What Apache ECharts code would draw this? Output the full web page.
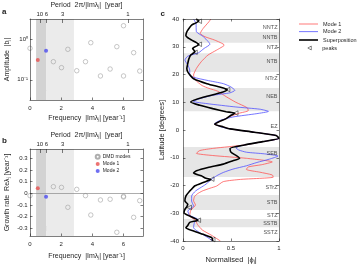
<!DOCTYPE html>
<html><head><meta charset="utf-8">
<script src="https://cdn.jsdelivr.net/npm/echarts@6/dist/echarts.min.js"></script>
<style>html,body{margin:0;padding:0;background:#fff}#c{width:361px;height:270px}</style>
</head><body><div id="c"></div>
<script>
// ---------- DATA ----------
// panels a/b : DMD modes
const dmdFreq   = [0, 1.5, 2.02, 2.43, 3.0, 3.56, 3.9, 4.52, 5.14, 5.57, 6.0, 6.0, 6.65, 7.04];
const dmdAmp    = [0.598, 0.279, 0.199, 0.564, 0.167, 0.279, 0.822, 0.124, 0.184, 0.656, 2.16, 0.124, 0.466, 0.164];
const dmdGrowth = [-0.02, 0.057, 0.051, -0.12, 0.034, -0.02, -0.186, -0.057, -0.051, -0.334, -0.025, -0.032, -0.206, -0.063];
const mode1Freq = [0.5], mode1Amp = [0.307], mode1Growth = [0.043];
const mode2Freq = [1.03], mode2Amp = [0.521], mode2Growth = [-0.029];
const periodTicks = [10, 6, 3, 1];
const twBand = [0.39, 1.03];
const lightBand = [1.03, 2.82];
const freqTicks = [0, 2, 4, 6];
const ampTicks = [0.1, 1];
const growthTicks = [-0.3, -0.2, -0.1, 0, 0.1, 0.2, 0.3];

// panel c : normalised eigenfunctions vs latitude
const blackLat = [40,39.3,38.5,37.8,36.5,35.4,34,33,32.4,31.5,30.8,29.4,28.2,27,25.5,24,22.2,20.9,19.5,18.5,16.7,15.1,14.5,13.4,11.9,10.1,8.9,7.7,6.6,6.0,5.3,4.1,2.9,2.1,1.1,0.4,-0.8,-2,-3,-4.2,-5.4,-6.7,-8,-9.3,-10.2,-11.1,-12.3,-13.5,-14.7,-15.5,-16.5,-17.4,-17.8,-18.9,-20.1,-21.3,-22,-23.8,-25.6,-26.8,-27.6,-28.6,-29.8,-31,-31.8,-32.5,-33.3,-34.4,-35.2,-36.4,-37.6,-38.8,-40];
const blackVal = [0.135,0.165,0.13,0.09,0.06,0.04,0.03,0.06,0.09,0.14,0.165,0.10,0.125,0.08,0.06,0.05,0.04,0.05,0.08,0.11,0.25,0.42,0.46,0.39,0.22,0.08,0.175,0.31,0.45,0.54,0.50,0.45,0.37,0.33,0.42,0.49,0.74,0.97,1.0,0.83,0.64,0.49,0.50,0.56,0.59,0.52,0.42,0.26,0.14,0.11,0.19,0.24,0.29,0.21,0.125,0.09,0.07,0.03,0.02,0.05,0.04,0.02,0.01,0.07,0.12,0.155,0.07,0.05,0.03,0.11,0.21,0.30,0.31];
const blueLat = [40,38.4,35.4,33.7,30.9,29.4,27.8,26.6,25.2,23.4,21.6,19.8,19.0,17.9,16.7,15.5,14.3,13.4,12.5,11.3,10.3,9.5,8.3,7.5,6.7,5.9,4.7,3.5,2.3,1.1,0.4,-0.8,-2,-3,-4.2,-5.4,-6.4,-7.2,-8,-8.6,-9.4,-10.5,-11.7,-12.9,-14.1,-15.3,-16.5,-17.7,-19.5,-20.2,-22,-23.8,-25.6,-27.4,-29.2,-30.8,-32.2,-33.3,-35.2,-37,-38.8,-40];
const blueVal = [0.11,0.135,0.14,0.21,0.28,0.22,0.16,0.05,0.02,0.05,0.07,0.07,0.11,0.25,0.42,0.50,0.54,0.49,0.31,0.175,0.11,0.25,0.55,0.80,0.89,0.77,0.52,0.39,0.33,0.40,0.49,0.74,0.97,1.0,0.83,0.64,0.55,0.58,0.66,0.85,0.99,0.90,0.77,0.66,0.52,0.42,0.35,0.30,0.24,0.21,0.13,0.09,0.09,0.11,0.05,0.07,0.155,0.12,0.11,0.175,0.26,0.31];
const redLat = [40,39,36.6,34.8,33.6,32.4,30.6,28.8,27,24.6,22.2,19.8,18,16,15,14,12,10,8,7,6,5,4,3,2.1,1.1,0.4,-0.8,-2,-3,-4.2,-5.4,-6.6,-7.4,-8.4,-9.2,-10.2,-11.5,-12.5,-13.3,-14.2,-15.2,-16.2,-17.0,-17.8,-18.6,-20.2,-21.0,-22.0,-23.0,-24.0,-25.5,-27.0,-29.0,-31.0,-32.5,-34.0,-36.0,-38.0,-40];
const redVal = [0.29,0.27,0.21,0.18,0.23,0.33,0.43,0.35,0.26,0.19,0.14,0.11,0.13,0.2,0.27,0.36,0.45,0.55,0.67,0.68,0.58,0.5,0.44,0.38,0.33,0.42,0.49,0.74,0.97,1.0,0.83,0.64,0.32,0.175,0.14,0.31,0.66,0.93,0.82,0.68,0.66,0.8,0.93,0.94,0.6,0.42,0.35,0.28,0.2,0.15,0.12,0.11,0.13,0.08,0.07,0.13,0.15,0.2,0.3,0.39];
const peakLat = [39.2, 30.9, 28.0, 14.6, 6.1, -17.7, -27.9, -32.5, -39.5];
const peakVal = [0.17, 0.17, 0.125, 0.465, 0.55, 0.30, 0.065, 0.16, 0.31];
const beltBands = [[31.4,35.3],[20.9,27.7],[6.8,15.1],[-16.9,-6.1],[-28.8,-23.4],[-35.0,-32.1]];
const zoneNames = ['NNTZ','NNTB','NTZ','NTB','NTrZ','NEB','EZ','SEB','STrZ','STB','STZ','SSTB','SSTZ'];
const zoneLats  = [36.9, 33.3, 29.7, 24.6, 18.5, 12.0, 1.1, -8.3, -20.6, -26.2, -30.7, -33.6, -37.0];

// ---------- STYLE ----------
const FONT = 'Liberation Sans, Arial, Helvetica, sans-serif';
const TXT = '#262626';
const RED = '#ff5656', BLUE = '#5252ff', REDDOT = '#e8504f', BLUEDOT = '#4b4bef', GRAY = '#9a9a9a';
const zip = (a, b) => a.map((v, i) => [v, b[i]]);
const periodFreq = periodTicks.map(p => 2 * Math.PI / p);

function ax(o) {
  return Object.assign({
    type: 'value', z: 10,
    axisLine: { show: true, onZero: false, lineStyle: { color: TXT, width: 0.6 } },
    axisTick: { show: true, inside: true, length: 2.5, lineStyle: { color: TXT, width: 0.6 } },
    axisLabel: { show: false },
    splitLine: { show: false },
    nameTextStyle: { fontSize: 7, color: TXT, fontFamily: FONT },
    nameLocation: 'middle'
  }, o);
}
const lbl = (o) => Object.assign({ show: true, fontSize: 6, color: TXT, fontFamily: FONT }, o);
const tick = (vals, len) => ({ show: true, inside: true, length: len || 2.5, customValues: vals, lineStyle: { color: TXT, width: 0.6 } });

const grids = [
  { left: 30, top: 19, width: 113, height: 81 },
  { left: 30, top: 149, width: 113, height: 87 },
  { left: 183, top: 19, width: 96, height: 222 }
].map(g => Object.assign({ containLabel: false, outerBoundsMode: 'none', show: false }, g));

const xAxes = [];
const yAxes = [];
[0, 1].forEach(gi => {
  xAxes.push(ax({ gridIndex: gi, position: 'bottom', min: 0, max: 7.25,
    axisTick: tick(freqTicks),
    axisLabel: lbl({ customValues: freqTicks, margin: 5 }),
    name: 'Frequency  |Imλⱼ| [year⁻¹]', nameGap: gi === 0 ? 15 : 16.5 }));
  xAxes.push(ax({ gridIndex: gi, position: 'top', min: 0, max: 7.25,
    axisTick: tick(periodFreq, 4),
    axisLabel: lbl({ customValues: periodFreq, margin: 2,
      formatter: v => { const i = periodFreq.findIndex(f => Math.abs(f - v) < 1e-6); return i >= 0 ? String(periodTicks[i]) : ''; } }),
    name: 'Period  2π/|Imλⱼ|  [year]', nameGap: 10 }));
});
xAxes.push(ax({ gridIndex: 2, position: 'bottom', min: 0, max: 1, interval: 0.5,
  axisLabel: lbl({ margin: 4, formatter: v => String(v) }),
  name: 'Normalised  |ϕⱼ|', nameGap: 11, nameTextStyle: { fontSize: 7.5, color: TXT, fontFamily: FONT } }));
xAxes.push(ax({ gridIndex: 2, position: 'top', min: 0, max: 1, interval: 0.5 }));

const ampMin = Math.pow(10, -1.5), ampMax = Math.pow(10, 0.5);
yAxes.push(ax({ gridIndex: 0, type: 'log', logBase: 10, min: ampMin, max: ampMax, position: 'left',
  axisTick: tick(ampTicks),
  axisLabel: lbl({ customValues: ampTicks, margin: 2, formatter: v => v > 0.5 ? '10⁰' : '10⁻¹' }),
  name: 'Amplitude  |bⱼ|', nameGap: 19 }));
yAxes.push(ax({ gridIndex: 0, type: 'log', logBase: 10, min: ampMin, max: ampMax, position: 'right', axisTick: tick(ampTicks) }));
yAxes.push(ax({ gridIndex: 1, min: -0.366, max: 0.38, position: 'left',
  axisTick: tick(growthTicks),
  axisLabel: lbl({ customValues: growthTicks, margin: 2.5, formatter: v => Math.abs(v) < 1e-9 ? '0' : v.toFixed(1) }),
  name: 'Growth rate  Reλⱼ [year⁻¹]', nameGap: 19 }));
yAxes.push(ax({ gridIndex: 1, min: -0.366, max: 0.38, position: 'right', axisTick: tick(growthTicks) }));
yAxes.push(ax({ gridIndex: 2, min: -40, max: 40, interval: 10, position: 'left',
  axisLabel: lbl({ margin: 4 }),
  name: 'Latitude [degrees]', nameGap: 16, nameTextStyle: { fontSize: 7.5, color: TXT, fontFamily: FONT } }));
yAxes.push(ax({ gridIndex: 2, min: -40, max: 40, interval: 10, position: 'right' }));

const shade = {
  silent: true, label: { show: false },
  data: [
    [{ xAxis: twBand[0], itemStyle: { color: '#d3d3d3' } }, { xAxis: twBand[1] }],
    [{ xAxis: lightBand[0], itemStyle: { color: '#ebebeb' } }, { xAxis: lightBand[1] }]
  ]
};
const hollow = (c, w) => ({ color: 'rgba(255,255,255,0)', borderColor: c, borderWidth: w });
const grayScatter = { type: 'scatter', symbol: 'circle', symbolSize: 4.5, itemStyle: hollow(GRAY, 0.7) };
const dot = (c) => ({ type: 'scatter', symbol: 'circle', symbolSize: 4, z: 5, itemStyle: { color: c } });

const series = [
  Object.assign({}, grayScatter, { name: 'dmd-a', xAxisIndex: 0, yAxisIndex: 0, data: zip(dmdFreq, dmdAmp), markArea: shade }),
  Object.assign(dot(REDDOT), { name: 'm1-a', xAxisIndex: 0, yAxisIndex: 0, data: zip(mode1Freq, mode1Amp) }),
  Object.assign(dot(BLUEDOT), { name: 'm2-a', xAxisIndex: 0, yAxisIndex: 0, data: zip(mode2Freq, mode2Amp) }),
  Object.assign({}, grayScatter, { name: 'DMD modes', xAxisIndex: 2, yAxisIndex: 2, data: zip(dmdFreq, dmdGrowth), markArea: shade,
    markLine: { silent: true, symbol: ['none', 'none'], label: { show: false }, lineStyle: { color: '#8a8a8a', width: 0.7, type: 'solid' }, data: [{ yAxis: 0 }] } }),
  Object.assign(dot(REDDOT), { name: 'Mode 1 ', xAxisIndex: 2, yAxisIndex: 2, data: zip(mode1Freq, mode1Growth) }),
  Object.assign(dot(BLUEDOT), { name: 'Mode 2 ', xAxisIndex: 2, yAxisIndex: 2, data: zip(mode2Freq, mode2Growth) }),
  { name: 'Mode 1', type: 'line', xAxisIndex: 4, yAxisIndex: 4, symbol: 'none', smooth: 0.2,
    lineStyle: { color: RED, width: 0.8 }, itemStyle: { color: RED }, data: zip(redVal, redLat),
    markArea: { silent: true, label: { show: false }, itemStyle: { color: '#e6e6e6' },
      data: beltBands.map(b => [{ yAxis: b[0] }, { yAxis: b[1] }]) } },
  { name: 'Mode 2', type: 'line', xAxisIndex: 4, yAxisIndex: 4, symbol: 'none', smooth: 0.2,
    lineStyle: { color: BLUE, width: 0.8 }, itemStyle: { color: BLUE }, data: zip(blueVal, blueLat) },
  { name: 'Superposition', type: 'line', xAxisIndex: 4, yAxisIndex: 4, symbol: 'none', smooth: 0.2,
    lineStyle: { color: '#000', width: 1.6 }, itemStyle: { color: '#000' }, data: zip(blackVal, blackLat) },
  { name: 'peaks', type: 'scatter', xAxisIndex: 4, yAxisIndex: 4, symbol: 'triangle', symbolRotate: 90, symbolSize: 4.5, z: 6,
    itemStyle: hollow('#000', 0.6), data: zip(peakVal, peakLat) },
  { name: 'zones', type: 'scatter', xAxisIndex: 4, yAxisIndex: 4, symbolSize: 0, silent: true, z: 7,
    label: { show: true, position: 'left', distance: 1.5, fontSize: 5.5, color: TXT, fontFamily: FONT, formatter: p => p.data[2] },
    data: zoneNames.map((n, i) => [1, zoneLats[i], n]) }
];

const legTxt = { fontSize: 5.5, lineHeight: 6, color: TXT, fontFamily: FONT };
const lineLegend = (name, top, h) => ({ data: [{ name: name, icon: 'rect' }], orient: 'vertical', left: 299, top: top, padding: 0,
  itemWidth: 19, itemHeight: h, selectedMode: false, textStyle: legTxt });

const txt = (x, y, s, o) => ({ type: 'text', left: x, top: y, silent: true,
  style: Object.assign({ text: s, fill: TXT, font: '6px ' + FONT }, o || {}) });

const option = {
  animation: false,
  textStyle: { fontFamily: FONT },
  grid: grids, xAxis: xAxes, yAxis: yAxes, series: series,
  legend: [
    { data: ['DMD modes', 'Mode 1 ', 'Mode 2 '], orient: 'vertical', left: 94.7, top: 153.7, padding: 0,
      itemWidth: 4, itemHeight: 4, itemGap: 1.2, selectedMode: false,
      textStyle: { fontSize: 5, lineHeight: 6, color: TXT, fontFamily: FONT, padding: [0, 0, 0, -2] } },
    lineLegend('Mode 1', 21, 0.8),
    lineLegend('Mode 2', 28.7, 0.8),
    lineLegend('Superposition', 37, 1.6),
    { data: [{ name: 'peaks', icon: 'path://M0,5 L9,0 L9,10 Z', itemStyle: hollow('#000', 0.6) }],
      orient: 'vertical', left: 307.5, top: 45, padding: 0,
      itemWidth: 3.5, itemHeight: 4, selectedMode: false, textStyle: Object.assign({ padding: [0, 0, 0, 6] }, legTxt) }
  ],
  graphic: [
    txt(2, 8, 'a', { font: 'bold 8px ' + FONT }),
    txt(2, 137, 'b', { font: 'bold 8px ' + FONT }),
    txt(160.5, 10, 'c', { font: 'bold 8px ' + FONT }),
    txt(38, 87.5, 'ᵂᶠ', { font: '5px ' + FONT }),
    txt(43, 89.5, 'TW', { font: '6.5px ' + FONT }),
    txt(40, 223, 'ᵂᶠ', { font: '5px ' + FONT }),
    txt(44.5, 225.5, 'TW', { font: '6.5px ' + FONT })
  ]
};
const chart = echarts.init(document.getElementById('c'), null, { renderer: 'canvas' });
chart.setOption(option);
</script></body></html>
